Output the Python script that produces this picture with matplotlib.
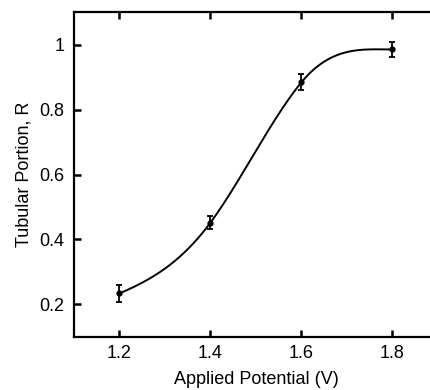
import numpy as np
import matplotlib
matplotlib.use("Agg")
import matplotlib.pyplot as plt

plt.rcParams["font.family"] = ["Liberation Sans", "DejaVu Sans"]

# data
potential = [1.2, 1.4, 1.6, 1.8]
tubular = [0.234, 0.452, 0.884, 0.985]
err = [0.026, 0.02, 0.025, 0.022]
# slope of the smooth guide line at each point
slopes = [0.6, 1.9, 1.7, 0.0]
x_ticks = [1.2, 1.4, 1.6, 1.8]
y_ticks = [0.2, 0.4, 0.6, 0.8, 1.0]
y_labels = ["0.2", "0.4", "0.6", "0.8", "1"]


def hermite(x, y, m, per_seg=80):
    # piecewise cubic hermite through the points
    xs, ys = [], []
    for i in range(len(x) - 1):
        h = x[i + 1] - x[i]
        t = np.linspace(0, 1, per_seg)
        h00 = 2 * t**3 - 3 * t**2 + 1
        h10 = t**3 - 2 * t**2 + t
        h01 = -2 * t**3 + 3 * t**2
        h11 = t**3 - t**2
        xs.append(x[i] + t * h)
        ys.append(h00 * y[i] + h10 * h * m[i] + h01 * y[i + 1] + h11 * h * m[i + 1])
    return np.concatenate(xs), np.concatenate(ys)


fig = plt.figure(figsize=(4.3, 3.9), dpi=100)
ax = fig.add_axes([0.172, 0.136, 0.8465, 0.833])

cx, cy = hermite(potential, tubular, slopes)
ax.plot(cx, cy, color="black", lw=1.4)
ax.errorbar(potential, tubular, yerr=err, fmt="o", color="black", ms=3.5,
            capsize=2.5, elinewidth=1.3, capthick=1.3)

ax.set_xlim(1.1, 1.9)
ax.set_ylim(0.1, 1.1)
ax.set_xticks(x_ticks)
ax.set_xticklabels([f"{v:.1f}" for v in x_ticks])
ax.set_yticks(y_ticks)
ax.set_yticklabels(y_labels)
ax.tick_params(direction="in", length=5, width=1.8, labelsize=13, top=True,
               right=True)
ax.tick_params(axis="x", pad=6)
ax.tick_params(axis="y", pad=7)

for s in ax.spines.values():
    s.set_linewidth(1.6)

ax.set_xlabel("Applied Potential (V)", fontsize=13, labelpad=6)
ax.set_ylabel("Tubular Portion, R", fontsize=13, labelpad=5)

fig.savefig("out.png", dpi=100)
